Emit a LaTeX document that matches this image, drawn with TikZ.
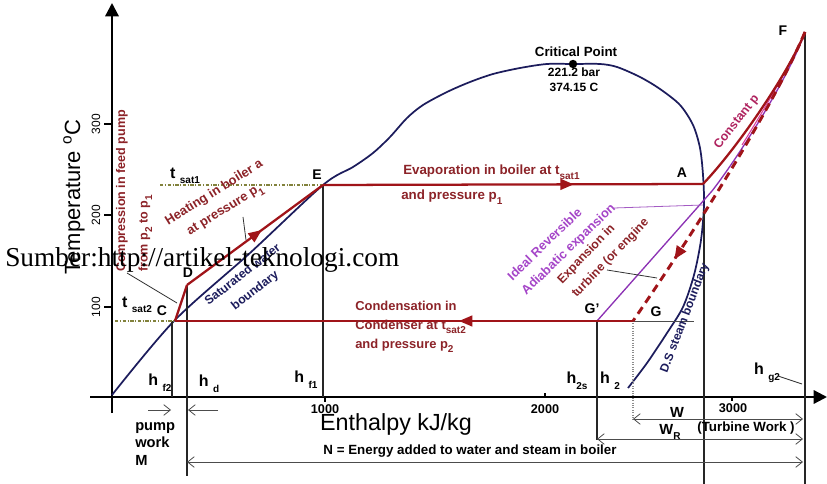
\documentclass[tikz,border=0pt]{standalone}
\usepackage{fontspec}
\setmainfont{Liberation Sans}
\newfontfamily\wmfont{Liberation Serif}
\usetikzlibrary{arrows.meta,decorations.markings}
\definecolor{cyc}{RGB}{160,20,25}
\definecolor{ctxt}{RGB}{140,35,40}
\definecolor{navy}{RGB}{28,28,92}
\definecolor{purp}{RGB}{140,50,180}
\definecolor{purtxt}{RGB}{165,70,200}
\definecolor{cpink}{RGB}{175,35,95}
\definecolor{olivel}{RGB}{130,130,60}
\definecolor{pinkl}{RGB}{220,60,160}
\newcommand\sbs[1]{\raisebox{-0.35em}{\fontsize{7.5}{8}\selectfont #1}}
\begin{document}
\begin{tikzpicture}[x=0.75pt,y=-0.75pt,
  every node/.style={inner sep=0pt},
  font=\bfseries\fontsize{9.5}{11.5}\selectfont,
  axisl/.style={line width=1.7pt,black},
  cycl/.style={cyc,line width=1.7pt},
  thinl/.style={black!85,line width=0.8pt},
  dimarr/.style={black!70,line width=0.6pt,{Straight Barb[length=5pt,width=8pt]}-{Straight Barb[length=5pt,width=8pt]}},
  onearr/.style={black!70,line width=0.6pt,-{Straight Barb[length=5pt,width=8pt]}},
  marr/.style={postaction={decorate},decoration={markings,mark=at position #1 with {\arrow{Triangle[length=10pt,width=8pt]}}}},
  satl/.style={olivel,line width=1pt,dash pattern=on 2.5pt off 1.2pt on 0.8pt off 1.2pt},
  pt/.style={font=\bfseries\fontsize{10.5}{12}\selectfont},
  hl/.style={font=\bfseries\fontsize{12}{13}\selectfont},
  tick/.style={font=\fontsize{9}{10}\selectfont,rotate=90},
  xtick/.style={font=\bfseries\fontsize{9.5}{10}\selectfont}
]
\useasboundingbox (0,0) rectangle (827,484);

% key points
\coordinate (O) at (112,395);
\coordinate (C) at (175,321);
\coordinate (D) at (187,285);
\coordinate (E) at (323,185);
\coordinate (A) at (703,184);
\coordinate (F) at (805,32);
\coordinate (Gp) at (597,321);
\coordinate (G) at (633,321);
\coordinate (CP) at (573,64);

% axes
\coordinate (ybot) at (112,413);
\coordinate (ytop) at (112,3);
\coordinate (xl) at (90,397);
\coordinate (xr) at (827,397);
\draw[axisl,-{Triangle[length=10pt,width=10pt]}] (ybot) -- (ytop);
\draw[axisl,-{Triangle[length=10pt,width=10pt]}] (xl) -- (xr);
\foreach \yy/\lab in {124/300,215/200,307/100}{
  \draw[line width=0.9pt] (104,\yy) -- (112,\yy);
  \node[tick] at (96,\yy) {\lab};
}
\draw[line width=0.9pt] (325,397) -- (325,402);
\draw[line width=0.9pt] (545,393) -- (545,397);
\draw[line width=0.9pt] (732,397) -- (732,401);
\node[xtick] (t1000) at (325,409) {1000};
\node[xtick] (t2000) at (545,409) {2000};
\node[xtick] (t3000) at (733,408) {3000};

\node[rotate=90,font=\fontsize{16.5}{18}\selectfont] (ylab) at (74,197) {Temperature \textsuperscript{o}C};
\node[font=\fontsize{17.5}{20}\selectfont] (xlab) at (396,424) {Enthalpy kJ/kg};

% saturation dome
\draw[navy,line width=1.3pt] plot[smooth,tension=0.5] coordinates {
 (112,395) (174,321) (250,253) (323,185) (353,167) (373,153) (390,137) (407,118)
 (423,105) (447,92) (470,82) (493,74) (520,68) (547,64) (573,64) (600,64)
 (617,67) (640,77) (660,89) (680,105) (693,125) (700,148) (703,175) (704,205)
 (701,240) (694,275) (683,307) (667,333) (647,363) (628,388)};
\fill[black] (CP) circle (4.2);

% verticals
\coordinate (hf2t) at (172,321); \coordinate (hf2b) at (172,397);
\coordinate (hdb) at (187,476);
\coordinate (hf1b) at (323,397);
\coordinate (h2sb) at (597,440);
\coordinate (h2b) at (633,420);
\coordinate (v1t) at (704,210); \coordinate (v1b) at (704,484);
\coordinate (v2b) at (805,484);
\draw[thinl] (hf2t) -- (hf2b);
\draw[thinl] (D) -- (hdb);
\draw[thinl] (E) -- (hf1b);
\draw[thinl] (Gp) -- (h2sb);
\draw[black!45,line width=0.8pt,densely dotted] (G) -- (h2b);
\draw[thinl] (v1t) -- (v1b);
\draw[thinl] (F) -- (v2b);
\coordinate (Gr) at (694,321);
\draw[black!70,line width=0.7pt] (G) -- (Gr);

% saturation temperature lines
\coordinate (ts1) at (160,185);
\coordinate (ts2) at (115,321);
\draw[satl] (ts1) -- (E);
\draw[satl] (ts2) -- (C);

% purple isentropic
\coordinate (P1) at (712,191);
\draw[purp,line width=1pt] (Gp) -- (P1) .. controls (740,155) and (790,75) .. (F);
\draw[pinkl,line width=0.8pt] (742,145) .. controls (762,113) and (790,66) .. (F);

% cycle
\draw[cycl] (C) -- (D);
\draw[cycl,marr=0.55] (D) -- (E);
\draw[cycl,marr=0.66] (E) -- (A);
\draw[cycl] (A) .. controls (740,145) and (790,70) .. (F);
\draw[cyc,line width=2.2pt,dash pattern=on 6pt off 4pt,marr=0.78] (F) .. controls (772,110) and (692,235) .. (G);
\draw[cycl,marr=0.38] (G) -- (C);

% point labels
\node[pt] (lC) at (162,311) {C};
\node[pt] (lD) at (188,273) {D};
\node[pt] (lE) at (317,175) {E};
\node[pt] (lA) at (682,173) {A};
\node[pt] (lF) at (783,31) {F};
\node[pt] (lGp) at (592,309) {G'};
\node[pt] (lG) at (656,312) {G};

\node[font=\bfseries\fontsize{10}{11}\selectfont] (cpl) at (576,52) {Critical Point};
\node[font=\bfseries\fontsize{9}{11}\selectfont,align=center] (cpv) at (574,80) {221.2 bar\\374.15 C};

% t_sat labels
\node[hl] (ts1l) at (185,176) {t \sbs{sat1}};
\node[hl] (ts2l) at (137,305) {t \sbs{sat2}};

% h labels
\node[hl] (hf2) at (160,383) {h \sbs{f2}};
\node[hl] (hd) at (209,384) {h \sbs{d}};
\node[hl] (hf1) at (306,380) {h \sbs{f1}};
\node[hl] (h2s) at (577,381) {h\sbs{2s}};
\node[hl] (h2) at (610,381) {h \sbs{2}};
\node[hl] (hg2) at (767,373) {h \sbs{g2}};
\coordinate (hg2a) at (778,376); \coordinate (hg2b) at (802,384);
\draw[black!80,line width=0.7pt] (hg2a) -- (hg2b);

% process labels
\node[ctxt,anchor=west] (evap) at (403,172) {\fontsize{10}{12}\selectfont Evaporation in boiler at t\sbs{sat1}};
\node[ctxt,anchor=west] (evp2) at (401,197) {\fontsize{10}{12}\selectfont and pressure p\sbs{1}};
\node[ctxt,anchor=west,align=left,font=\bfseries\fontsize{9.7}{14}\selectfont] (cond) at (355,327) {Condensation in\\Condenser at t\sbs{sat2}\\and pressure p\sbs{2}};
\node[ctxt,rotate=32,align=center,font=\bfseries\fontsize{9.7}{15}\selectfont] (heat) at (220,202) {Heating in boiler a\\at pressure p\sbs{1}};
\coordinate (hla) at (243,217); \coordinate (hlb) at (246,240);
\draw[black!80,line width=0.6pt] (hla) -- (hlb);
\node[navy,rotate=38,align=center,font=\bfseries\fontsize{9.2}{15}\selectfont] (satw) at (249,283) {Saturated water\\boundary};
\node[ctxt,rotate=90,anchor=west,align=left,font=\bfseries\fontsize{9.4}{17}\selectfont] (comp) at (134,272) {Compression in feed pump\\from p\sbs{2} to p\sbs{1}};
\coordinate (cla) at (127,273); \coordinate (clb) at (177,303);
\draw[black!80,line width=0.6pt] (cla) -- (clb);
\node[purtxt,rotate=44,anchor=west,align=left,font=\bfseries\fontsize{9.6}{15}\selectfont] (ideal) at (517,286) {Ideal Reversible\\Adiabatic expansion};
\coordinate (ila) at (614,208); \coordinate (ilb) at (703,205);
\draw[purp!80,line width=0.6pt] (ila) -- (ilb);
\node[ctxt,rotate=46,anchor=west,align=left,font=\bfseries\fontsize{9.2}{15}\selectfont] (expn) at (567,289) {Expansion in\\turbine (or engine};
\coordinate (ela) at (607,270); \coordinate (elb) at (657,278);
\draw[black!80,line width=0.6pt] (ela) -- (elb);
\node[cpink,rotate=52,font=\bfseries\fontsize{9.3}{11}\selectfont] (cstp) at (737,122) {Constant p};
\node[navy,rotate=69,font=\bfseries\fontsize{9}{11}\selectfont] (dsb) at (685,318) {D.S steam boundary};

% bottom dimension arrows
\coordinate (pw1) at (148,410); \coordinate (pw2) at (171,410);
\coordinate (pw3) at (218,410); \coordinate (pw4) at (188,410);
\draw[onearr] (pw1) -- (pw2);
\draw[onearr] (pw3) -- (pw4);
\node[anchor=west,align=left,font=\bfseries\fontsize{11}{13}\selectfont] (pump) at (135,444) {pump\\work\\M};
\coordinate (wl) at (633,419); \coordinate (wr) at (803,419);
\coordinate (wrl) at (597,439); \coordinate (wrr) at (803,439);
\coordinate (nl) at (187,462); \coordinate (nr) at (803,462);
\draw[dimarr] (wl) -- (wr);
\draw[dimarr] (wrl) -- (wrr);
\draw[dimarr] (nl) -- (nr);
\node[font=\bfseries\fontsize{11}{12}\selectfont] (wlab) at (677,412) {W};
\node[font=\bfseries\fontsize{10}{12}\selectfont] (twk) at (746,428) {(Turbine Work )};
\node[font=\bfseries\fontsize{11}{12}\selectfont] (wrlab) at (670,432) {W\sbs{R}};
\node[font=\bfseries\fontsize{10}{12}\selectfont] (nlab) at (470,451) {N = Energy added to water and steam in boiler};

% watermark
\node[anchor=base west,font=\wmfont\fontsize{20.5}{22}\selectfont] (wm) at (5,267) {Sumber:http://artikel-teknologi.com};
\end{tikzpicture}
\end{document}
